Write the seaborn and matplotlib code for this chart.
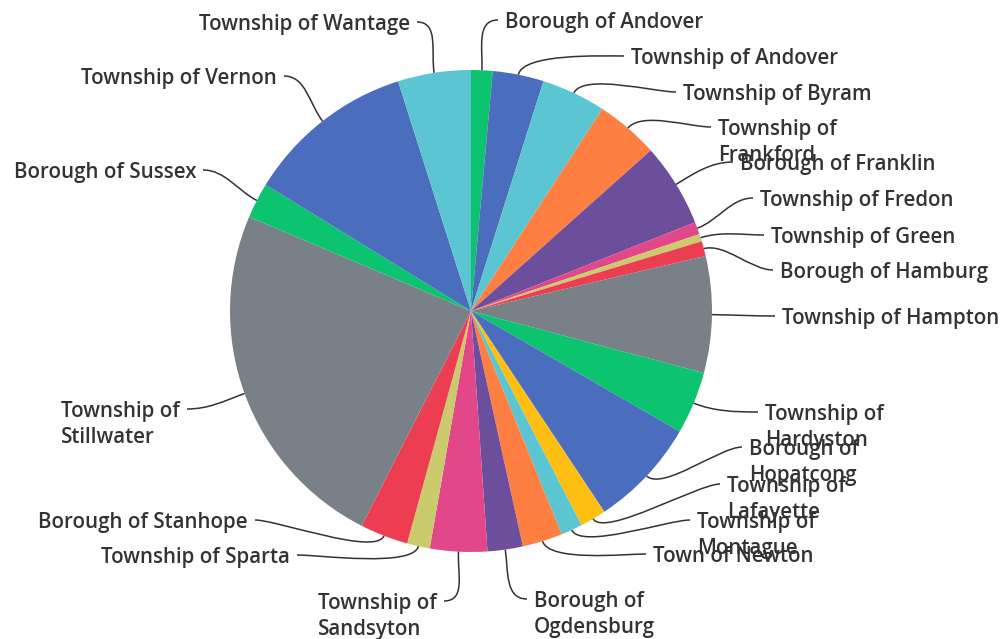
import matplotlib
matplotlib.use("Agg")
import numpy as np
import matplotlib.pyplot as plt
import seaborn as sns
from matplotlib.path import Path
from matplotlib.patches import PathPatch

# Share of the county total for each municipality (percent)
municipalities = [
    "Borough of Andover", "Township of Andover", "Township of Byram",
    "Township of\nFrankford", "Borough of Franklin", "Township of Fredon",
    "Township of Green", "Borough of Hamburg", "Township of Hampton",
    "Township of\nHardyston", "Borough of\nHopatcong", "Township of\nLafayette",
    "Township of\nMontague", "Town of Newton", "Borough of\nOgdensburg",
    "Township of\nSandsyton", "Township of Sparta", "Borough of Stanhope",
    "Township of\nStillwater", "Borough of Sussex", "Township of Vernon",
    "Township of Wantage",
]
shares = [
    1.44, 3.42, 4.31, 4.22, 5.61, 0.83, 0.50, 1.00, 7.81, 4.19, 7.33,
    1.75, 1.44, 2.69, 2.36, 3.83, 1.53, 3.22, 23.89, 2.39, 11.33, 4.89,
]
slice_colors = [
    "#0cc46f", "#4a6dbd", "#5bc6d1", "#ff7f42", "#6c4f9c", "#e2478a",
    "#cacb6c", "#ec3e50", "#7a8088", "#0cc46f", "#4a6dbd", "#ffbe12",
    "#5bc6d1", "#ff7f42", "#6c4f9c", "#e2478a", "#cacb6c", "#ec3e50",
    "#7a8088", "#0cc46f", "#4a6dbd", "#5bc6d1",
]

# Label anchors in pixel units from the top-left corner: (x, y, side)
# side "r": text starts at x; side "l": text ends at x
label_anchor_x = [505, 631, 683, 718, 740, 760, 771, 780, 782, 765, 749,
                  727, 697, 653, 534, 437, 290, 248, 180, 196, 277, 410]
label_anchor_y = [20, 56, 92, 127, 162, 198, 235, 270, 316, 412, 447,
                  484, 520, 554, 599, 601, 555, 520, 409, 170, 76, 22]
label_side = ["r"] * 15 + ["l"] * 7

W, H = 1005, 639
CX, CY, R = 471, 311, 241
LINE_GAP = 26  # pixels between wrapped label lines

sns.set_theme(style="white")
plt.rcParams["font.family"] = ["Open Sans", "DejaVu Sans"]

fig = plt.figure(figsize=(W / 100, H / 100), dpi=100)
ax = fig.add_axes([0, 0, 1, 1])

wedges, _ = ax.pie(
    shares, colors=slice_colors, startangle=90, counterclock=False,
    center=(CX, H - CY), radius=R, wedgeprops=dict(linewidth=0),
)
ax.set_xlim(0, W)
ax.set_ylim(0, H)
ax.set_aspect("equal")
ax.axis("off")

text_color = "#333333"
text_kw = dict(fontsize=14.8, fontweight="semibold", color=text_color,
               va="center_baseline")
renderer = fig.canvas.get_renderer()

for w, name, lx, ly, side in zip(wedges, municipalities, label_anchor_x,
                                 label_anchor_y, label_side):
    mid = np.deg2rad((w.theta1 + w.theta2) / 2)
    d = np.array([np.cos(mid), np.sin(mid)])
    c = np.array(w.center)
    p0 = c + w.r * d
    p1 = c + (w.r + 22) * d
    ty = H - ly
    if side == "r":
        end = np.array([lx - 7, ty])
        p2 = end - np.array([22, 0])
    else:
        end = np.array([lx + 7, ty])
        p2 = end + np.array([22, 0])
    path = Path([p0, p1, p2, end],
                [Path.MOVETO, Path.CURVE4, Path.CURVE4, Path.CURVE4])
    ax.add_patch(PathPatch(path, fill=False, edgecolor=text_color, lw=1.1))

    lines = name.split("\n")
    first = ax.text(lx, ty, lines[0], ha="left" if side == "r" else "right",
                    **text_kw)
    if len(lines) > 1:
        # wrapped lines share the left edge of the first line
        x0 = lx
        if side == "l":
            bb = first.get_window_extent(renderer)
            x0 = ax.transData.inverted().transform((bb.x0, bb.y0))[0]
        for k, extra in enumerate(lines[1:], start=1):
            ax.text(x0, ty - k * LINE_GAP, extra, ha="left", **text_kw)

fig.savefig("out.png", dpi=100, facecolor="white")
